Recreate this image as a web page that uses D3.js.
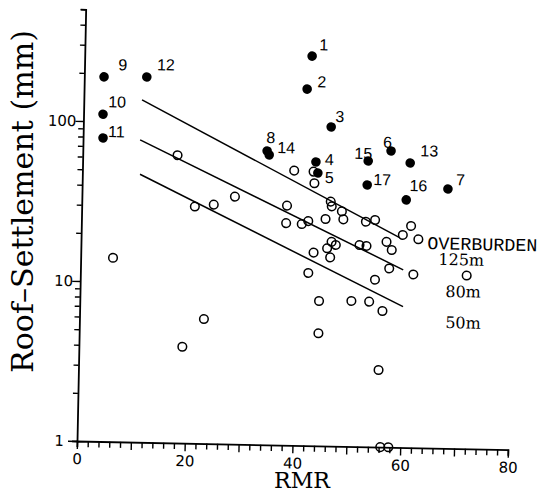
<!DOCTYPE html>
<html><head><meta charset="utf-8">
<script src="https://cdn.jsdelivr.net/npm/d3@7"></script>
<style>body{margin:0;background:#fff}svg{display:block}</style>
</head><body><svg id="c" width="537" height="499"></svg>
<script>
// ---- data ----
const filledIds = ["1","2","3","4","5","6","7","8","9","10","11","12","13","14","15","16","17"];
const filledRMR = [42.2,41.4,46.0,43.3,43.7,57.2,67.9,34.2,3.66,3.61,3.70,11.6,60.8,34.6,53.0,60.2,52.9];
const filledSettle = [272,169,98.7,59.4,50.7,71.1,41.8,68.6,190,111,78.9,192,60.1,64.8,61.1,35.3,43.3];
const openRMR = [6.0,17.6,21.0,24.5,28.4,19.2,23.1,39.3,42.9,43.1,38.1,46.2,46.4,48.3,48.6,38.0,40.9,42.1,45.3,52.8,54.5,59.7,61.2,62.6,46.5,47.3,43.2,45.7,46.3,51.7,53.0,56.7,57.7,57.3,61.8,42.3,54.7,44.4,50.4,53.7,56.2,44.4,71.7,55.7,56.3,57.8];
const openSettle = [14.1,62.9,30.2,31.2,35.2,4.00,6.0,52.1,51.6,43.7,31.4,33.7,31.5,29.4,26.2,24.4,24.2,25.3,26.2,25.5,26.2,21.3,24.3,20.1,18.9,18.1,16.1,17.2,15.1,18.2,18.0,19.2,17.1,13.1,12.1,12.0,11.1,8.04,8.12,8.08,7.09,5.05,12.1,3.03,1.0,1.0];
const overburdenLabels = ["125m","80m","50m"];
const lineRMR = [[10.8,59.2],[10.6,59.9],[10.7,60.0]];
const lineSettle = [[138,20.4],[77.5,12.9],[47.3,7.59]];
const xTickLabels = [0,20,40,60,80];
const yTickLabels = [1,10,100];

// ---- layout ----
const svg = d3.select("#c");
const x = d3.scaleLinear().domain([0,80]).range([77,508]);
const y = d3.scaleLog().domain([1,500]).range([441,441-160*Math.log10(500)]);
const g = svg.append("g").attr("transform","rotate(1.15,77,441)");

// label offsets (pixels) for numbered points
const labelOff = {"1":[7,-6],"2":[10,-2],"3":[4,-5],"4":[9,3],"5":[7,10],"6":[-8,-3],"7":[8,-4],
  "8":[-1,-8],"9":[14,-7],"10":[5,-7],"11":[5,-1],"12":[10,-7],"13":[10,-7],"14":[8,-2],
  "15":[-14,-2],"16":[3,-9],"17":[6,0]};

// axes
const xMinor = d3.range(0,81,2);
const xAxis = d3.axisBottom(x).tickValues(xMinor).tickSizeOuter(0).tickSize(6)
  .tickFormat(d => xTickLabels.includes(d) ? d : "");
const gx = g.append("g").attr("transform","translate(0,441)").call(xAxis);
gx.selectAll(".tick line").attr("y2", d => d % 10 === 0 ? 8 : 6);
gx.selectAll(".tick text").attr("y",12.5);

const yMinor = [];
[1,10,100].forEach(b => { for (let k=1;k<10;k++){ const v=b*k; if (v<=500) yMinor.push(v);} });
const yAxis = d3.axisLeft(y).tickValues(yMinor).tickSizeOuter(0).tickSize(5)
  .tickFormat(d => yTickLabels.includes(d) ? d : "");
const gy = g.append("g").attr("transform","translate(77,0)").call(yAxis);
gy.selectAll(".tick line").attr("x2", d => d===1 ? -9 : (yTickLabels.includes(d) ? -8 : -5));
gy.selectAll(".tick text").attr("x", d => d===1 ? -13 : -7);

[gx,gy].forEach(a => {
  a.select(".domain").attr("stroke","#000").attr("stroke-width",1.8);
  a.selectAll(".tick line").attr("stroke","#000").attr("stroke-width",1.4);
  a.selectAll(".tick text").attr("font-family","DejaVu Sans").attr("font-size",15).attr("fill","#000");
});

// trend lines
const lineGen = d3.line().x(d => x(d[0])).y(d => y(d[1]));
lineRMR.forEach((xs,i) => {
  g.append("path").datum(xs.map((v,j)=>[v,lineSettle[i][j]]))
   .attr("d",lineGen).attr("fill","none").attr("stroke","#000").attr("stroke-width",1.5);
});

// open circles
g.append("g").selectAll("circle").data(openRMR.map((v,i)=>[v,openSettle[i]])).join("circle")
  .attr("cx",d=>x(d[0])).attr("cy",d=>y(d[1])).attr("r",4.3)
  .attr("fill","none").attr("stroke","#000").attr("stroke-width",1.5);

// filled circles
const fd = filledIds.map((id,i)=>({id, rmr:filledRMR[i], s:filledSettle[i]}));
g.append("g").selectAll("circle").data(fd).join("circle")
  .attr("cx",d=>x(d.rmr)).attr("cy",d=>y(d.s)).attr("r",4.8).attr("fill","#000");
g.append("g").selectAll("text").data(fd).join("text")
  .attr("x",d=>x(d.rmr)+labelOff[d.id][0]).attr("y",d=>y(d.s)+labelOff[d.id][1])
  .attr("font-family","Liberation Sans, Arial, sans-serif").attr("font-size",16).text(d=>d.id);

// overburden annotation
g.append("text").attr("x",x(64.3)).attr("y",y(17.5)).attr("font-family","Liberation Mono, monospace")
  .attr("font-size",18).attr("textLength",110).attr("lengthAdjust","spacingAndGlyphs").text("OVERBURDEN");
const annPos = [[66.4,14.0],[67.8,8.84],[67.9,5.65]];
overburdenLabels.forEach((t,i)=>{
  g.append("text").attr("x",x(annPos[i][0])).attr("y",y(annPos[i][1]))
   .attr("font-family","DejaVu Serif, serif").attr("font-size",16).text(t);
});

// axis titles
svg.append("text").attr("x",302).attr("y",488).attr("text-anchor","middle")
  .attr("font-family","DejaVu Serif, serif").attr("font-size",23)
  .attr("textLength",56).attr("lengthAdjust","spacingAndGlyphs").text("RMR");
svg.append("text").attr("transform","translate(33,201.5) rotate(-90)").attr("text-anchor","middle")
  .attr("font-family","DejaVu Serif, serif").attr("font-size",30)
  .attr("textLength",343).attr("lengthAdjust","spacingAndGlyphs").text("Roof–Settlement (mm)");
</script></body></html>
